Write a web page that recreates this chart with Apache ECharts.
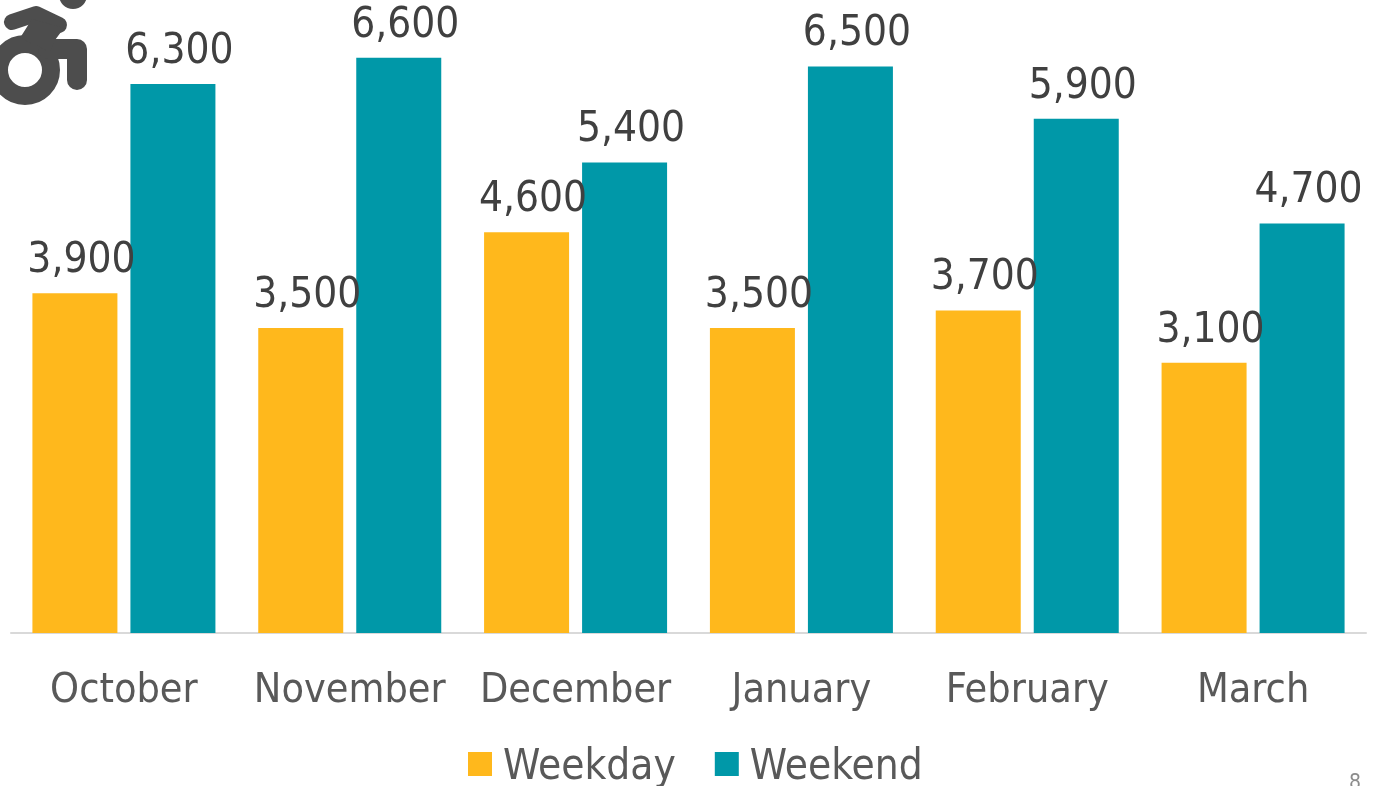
<!DOCTYPE html>
<html>
<head>
<meta charset="utf-8">
<style>
  html, body { margin: 0; padding: 0; background: #fff; overflow: hidden; }
  #chart { width: 1375px; height: 786px; }
</style>
<script src="https://cdn.jsdelivr.net/npm/echarts@6/dist/echarts.min.js"></script>
</head>
<body>
<div id="chart"></div>
<script>
const categories = ['October', 'November', 'December', 'January', 'February', 'March']
const weekdayValues = [3900, 3500, 4600, 3500, 3700, 3100]
const weekendValues = [6300, 6600, 5400, 6500, 5900, 4700]
const pageNumber = '8'

const fontName = '"DejaVu Sans Condensed", "DejaVu Sans", sans-serif'
const iconColor = '#4d4d4d'

const barLabel = {
  show: true,
  position: 'top',
  distance: 11,
  offset: [6.5, 0],
  fontFamily: fontName,
  fontSize: 42,
  color: '#404040',
  formatter: (p) => p.value.toLocaleString('en-US')
}

const myChart = echarts.init(document.getElementById('chart'), null, { renderer: 'canvas' })
myChart.setOption({
  animation: false,
  backgroundColor: '#fff',
  grid: { left: 11, right: 9, top: 23, bottom: 153 },
  xAxis: {
    type: 'category',
    data: categories,
    axisTick: { show: false },
    axisLine: { lineStyle: { color: '#d9d9d9', width: 2 } },
    axisLabel: { interval: 0, fontFamily: fontName, fontSize: 41, color: '#595959', margin: 38, hideOverlap: false }
  },
  yAxis: { type: 'value', min: 0, max: 7000, show: false },
  legend: {
    left: 463,
    top: 742,
    icon: 'rect',
    itemWidth: 24,
    itemHeight: 24,
    itemGap: 39,
    formatter: (name) => '{t|' + name + '}',
    textStyle: {
      rich: {
        t: { fontFamily: fontName, fontSize: 42, color: '#595959', padding: [8, 0, 0, 6] }
      }
    },
    data: ['Weekday', 'Weekend']
  },
  series: [
    { name: 'Weekday', type: 'bar', data: weekdayValues, barWidth: 85, barGap: '15.3%', itemStyle: { color: '#ffb81c' }, label: barLabel },
    { name: 'Weekend', type: 'bar', data: weekendValues, barWidth: 85, itemStyle: { color: '#0098a8' }, label: barLabel }
  ],
  graphic: [
    // 轮椅图标
    { type: 'circle', z: 10, shape: { cx: 73, cy: -5, r: 14 }, style: { fill: iconColor } },
    { type: 'circle', z: 10, shape: { cx: 25, cy: 70, r: 26 }, style: { stroke: iconColor, lineWidth: 18, fill: 'none' } },
    { type: 'polyline', z: 10, shape: { points: [[12, 22], [36, 14], [59, 25]] }, style: { stroke: iconColor, lineWidth: 16, lineJoin: 'round', lineCap: 'round', fill: 'none' } },
    { type: 'polyline', z: 10, shape: { points: [[48, 49], [77, 49], [77, 80]] }, style: { stroke: iconColor, lineWidth: 20, lineJoin: 'round', lineCap: 'round', fill: 'none' } },
    { type: 'polygon', z: 10, shape: { points: [[32, 19], [64, 28], [55, 40], [50, 52], [20, 38]] }, style: { fill: iconColor } },
    { type: 'text', z: 10, left: 1349, top: 773, style: { text: pageNumber, fontFamily: fontName, fontSize: 21, fill: '#8c8c8c' } }
  ]
})
</script>
</body>
</html>
